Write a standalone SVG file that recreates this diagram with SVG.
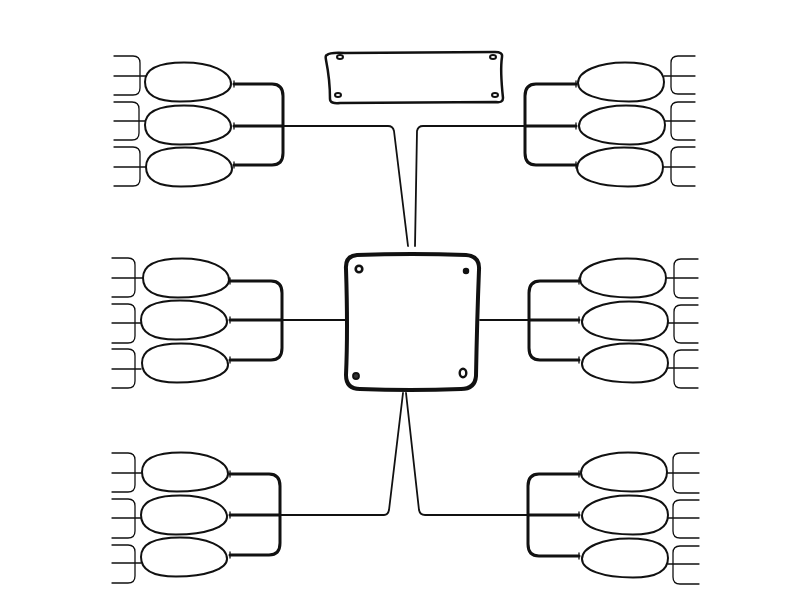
<svg xmlns="http://www.w3.org/2000/svg" width="794" height="596" viewBox="0 0 794 596">
<style>
.thin{fill:none;stroke:#111;stroke-width:1.3;stroke-linecap:round;stroke-linejoin:round}
.trunk{fill:none;stroke:#111;stroke-width:1.8;stroke-linecap:round;stroke-linejoin:round}
.thick{fill:none;stroke:#111;stroke-width:3;stroke-linecap:round;stroke-linejoin:round}
.oval{fill:#fff;stroke:#111;stroke-width:2}
.hole{fill:#fff;stroke:#111;stroke-width:2}
</style>
<defs>
<path id="eggL" d="M -43,0 C -43,-15 -26,-19.5 -4,-19.5 C 22,-19.5 43,-11 43,2 C 43,12 22,19.5 -8,19.5 C -32,19.5 -43,12 -43,0 Z"/>
<path id="eggR" d="M 43,0 C 43,-15 26,-19.5 4,-19.5 C -22,-19.5 -43,-11 -43,1 C -43,12 -22,19.5 8,19.5 C 32,19.5 43,12 43,0 Z"/>
</defs>
<rect width="794" height="596" fill="#fff"/>

<g id="connectors">
<!-- trunks -->
<path class="trunk" d="M 283,126 H 388 Q 393,126 394,131 L 408,246"/>
<path class="trunk" d="M 415,246 L 417,131 Q 418,126 423,126 H 525"/>
<path class="trunk" d="M 282,320 H 345"/>
<path class="trunk" d="M 480,320 H 529"/>
<path class="trunk" d="M 280,515 H 384 Q 388,515 389,510 L 403,393"/>
<path class="trunk" d="M 528,515 H 425 Q 420,515 419,510 L 406,393"/>
<!-- inner thick brackets -->
<path class="thick" d="M 234,84 H 272 Q 283,84 283,96 V 153 Q 283,165 272,165 H 234 M 234,126 H 283"/>
<path class="thick" d="M 576,84 H 536 Q 525,84 525,96 V 153 Q 525,165 536,165 H 576 M 525,126 H 576"/>
<path class="thick" d="M 230,281 H 271 Q 282,281 282,293 V 348 Q 282,360 271,360 H 230 M 230,320 H 282"/>
<path class="thick" d="M 579,281 H 540 Q 529,281 529,293 V 348 Q 529,360 540,360 H 579 M 529,320 H 579"/>
<path class="thick" d="M 230,474 H 269 Q 280,474 280,486 V 543 Q 280,555 269,555 H 230 M 230,515 H 280"/>
<path class="thick" d="M 579,474 H 539 Q 528,474 528,486 V 544 Q 528,556 539,556 H 579 M 528,515 H 579"/>
<!-- ticks -->
<path class="thin" d="M 234,81 V 87 M 234,123 V 129 M 234,162 V 168 M 576,81 V 87 M 576,123 V 129 M 576,162 V 168 M 230,278 V 284 M 230,317 V 323 M 230,357 V 363 M 579,278 V 284 M 579,317 V 323 M 579,357 V 363 M 230,471 V 477 M 230,512 V 518 M 230,552 V 558 M 579,471 V 477 M 579,512 V 518 M 579,553 V 559"/>
<!-- outer forks left -->
<path class="thin" d="M 114,56 H 133 Q 140,56 140,63 V 88 Q 140,95 133,95 H 114 M 114,76 H 146"/>
<path class="thin" d="M 114,102 H 132 Q 139,102 139,109 V 133 Q 139,140 132,140 H 114 M 114,121 H 146"/>
<path class="thin" d="M 114,147 H 133 Q 140,147 140,154 V 179 Q 140,186 133,186 H 114 M 114,167 H 147"/>
<path class="thin" d="M 112,258 H 128 Q 135,258 135,265 V 290 Q 135,297 128,297 H 112 M 112,278 H 143"/>
<path class="thin" d="M 112,304 H 128 Q 135,304 135,311 V 336 Q 135,343 128,343 H 112 M 112,323 H 141"/>
<path class="thin" d="M 112,349 H 128 Q 135,349 135,356 V 381 Q 135,388 128,388 H 112 M 112,369 H 141"/>
<path class="thin" d="M 112,453 H 128 Q 135,453 135,460 V 485 Q 135,492 128,492 H 112 M 112,473 H 143"/>
<path class="thin" d="M 112,499 H 128 Q 135,499 135,506 V 531 Q 135,538 128,538 H 112 M 112,518 H 141"/>
<path class="thin" d="M 112,545 H 128 Q 135,545 135,552 V 576 Q 135,583 128,583 H 112 M 112,563 H 141"/>
<!-- outer forks right -->
<path class="thin" d="M 695,56 H 678 Q 671,56 671,63 V 87 Q 671,94 678,94 H 695 M 664,76 H 695"/>
<path class="thin" d="M 695,102 H 678 Q 671,102 671,109 V 133 Q 671,140 678,140 H 695 M 665,121 H 695"/>
<path class="thin" d="M 695,147 H 678 Q 671,147 671,154 V 179 Q 671,186 678,186 H 695 M 663,167 H 695"/>
<path class="thin" d="M 698,259 H 681 Q 674,259 674,266 V 291 Q 674,298 681,298 H 698 M 666,278 H 698"/>
<path class="thin" d="M 698,305 H 681 Q 674,305 674,312 V 336 Q 674,343 681,343 H 698 M 668,323 H 698"/>
<path class="thin" d="M 698,350 H 681 Q 674,350 674,357 V 381 Q 674,388 681,388 H 698 M 668,368 H 698"/>
<path class="thin" d="M 699,453 H 680 Q 673,453 673,460 V 486 Q 673,493 680,493 H 699 M 667,473 H 699"/>
<path class="thin" d="M 699,500 H 680 Q 673,500 673,507 V 531 Q 673,538 680,538 H 699 M 668,518 H 699"/>
<path class="thin" d="M 699,546 H 680 Q 673,546 673,553 V 577 Q 673,584 680,584 H 699 M 668,564 H 699"/>
</g>

<g id="banner">
<path d="M 327,55 Q 330,52 345,53 L 495,52 Q 503,52 502,57 Q 500,70 503,98 Q 503,103 496,102 L 340,103 Q 330,104 330,99 Q 330,80 326,60 Q 325,55 327,55 Z" fill="#fff" stroke="#111" stroke-width="2.5" stroke-linejoin="round"/>
<ellipse class="hole" cx="340" cy="57" rx="3" ry="2" stroke-width="1.6"/>
<ellipse class="hole" cx="493" cy="57" rx="3" ry="2" stroke-width="1.6"/>
<ellipse class="hole" cx="338" cy="95" rx="3" ry="2" stroke-width="1.6"/>
<ellipse class="hole" cx="495" cy="95" rx="3" ry="2" stroke-width="1.6"/>
</g>

<g id="center">
<path d="M 357,255 Q 412,253 466,255 Q 480,256 479,270 Q 477,320 476,376 Q 475,389 461,389 Q 410,391 360,389 Q 346,389 346,375 Q 348,330 346,269 Q 345,256 357,255 Z" fill="#fff" stroke="#111" stroke-width="4" stroke-linejoin="round"/>
<circle cx="359" cy="269" r="3.3" fill="#fff" stroke="#111" stroke-width="2.6"/>
<circle cx="466" cy="271" r="2.5" fill="#111" stroke="#111" stroke-width="1.5"/>
<circle cx="356" cy="376" r="3" fill="#333" stroke="#111" stroke-width="1.8"/>
<ellipse cx="463" cy="373" rx="3.3" ry="4.2" fill="#fff" stroke="#111" stroke-width="2.4"/>
</g>

<g id="oval-tl-1"><use href="#eggL" class="oval" transform="translate(188,82)"/></g>
<g id="oval-tl-2"><use href="#eggL" class="oval" transform="translate(188,125)"/></g>
<g id="oval-tl-3"><use href="#eggL" class="oval" transform="translate(189,167)"/></g>
<g id="oval-ml-1"><use href="#eggL" class="oval" transform="translate(186,278)"/></g>
<g id="oval-ml-2"><use href="#eggL" class="oval" transform="translate(184,320)"/></g>
<g id="oval-ml-3"><use href="#eggL" class="oval" transform="translate(185,363)"/></g>
<g id="oval-bl-1"><use href="#eggL" class="oval" transform="translate(185,472)"/></g>
<g id="oval-bl-2"><use href="#eggL" class="oval" transform="translate(184,515)"/></g>
<g id="oval-bl-3"><use href="#eggL" class="oval" transform="translate(184,557)"/></g>
<g id="oval-tr-1"><use href="#eggR" class="oval" transform="translate(621,82)"/></g>
<g id="oval-tr-2"><use href="#eggR" class="oval" transform="translate(622,125)"/></g>
<g id="oval-tr-3"><use href="#eggR" class="oval" transform="translate(620,167)"/></g>
<g id="oval-mr-1"><use href="#eggR" class="oval" transform="translate(623,278)"/></g>
<g id="oval-mr-2"><use href="#eggR" class="oval" transform="translate(625,321)"/></g>
<g id="oval-mr-3"><use href="#eggR" class="oval" transform="translate(625,363)"/></g>
<g id="oval-br-1"><use href="#eggR" class="oval" transform="translate(624,472)"/></g>
<g id="oval-br-2"><use href="#eggR" class="oval" transform="translate(625,515)"/></g>
<g id="oval-br-3"><use href="#eggR" class="oval" transform="translate(625,558)"/></g>
</svg>
